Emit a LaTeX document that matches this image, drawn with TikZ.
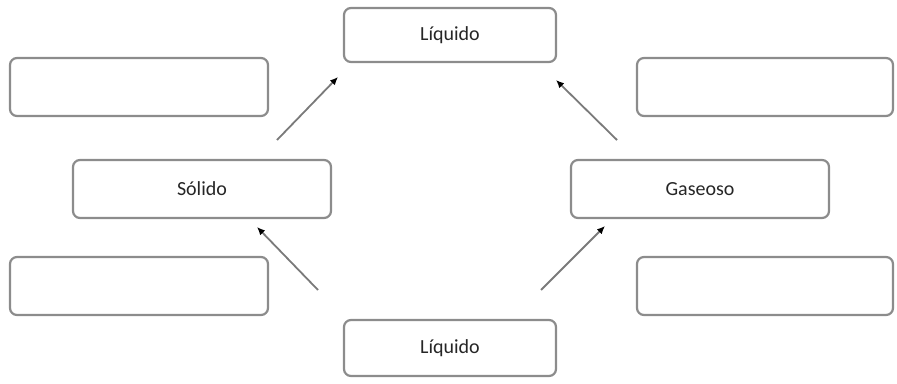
\documentclass[tikz,border=0pt]{standalone}
\usepackage{fontspec}
\setmainfont{Carlito}
\usetikzlibrary{arrows.meta}
\definecolor{boxgray}{HTML}{8C8C8C}
\definecolor{arrgray}{HTML}{7A7A7A}
\tikzset{
  statebox/.style={draw=boxgray, line width=2.2pt, rounded corners=7pt, fill=white, inner sep=0pt,
    font=\fontsize{20}{24}\selectfont, text=black!85},
  conn/.style={draw=arrgray, line width=1.8pt, -{Latex[length=8pt,width=7pt,fill=black,color=black]}}
}
\begin{document}
\begin{tikzpicture}[x=1pt,y=-1pt]
\useasboundingbox (0,0) rectangle (897,383);
% state boxes
\node[statebox, minimum width=212pt, minimum height=54pt] (liqtop) at (450,35) {Líquido};
\node[statebox, minimum width=212pt, minimum height=56pt] (liqbot) at (450,348) {Líquido};
\node[statebox, minimum width=258pt, minimum height=58pt] (sol) at (202,189) {Sólido};
\node[statebox, minimum width=258pt, minimum height=58pt] (gas) at (700,189) {Gaseoso};
% empty boxes
\node[statebox, minimum width=258pt, minimum height=58pt] (e1) at (139,87) {};
\node[statebox, minimum width=256pt, minimum height=58pt] (e2) at (765,87) {};
\node[statebox, minimum width=258pt, minimum height=58pt] (e3) at (139,286) {};
\node[statebox, minimum width=256pt, minimum height=58pt] (e4) at (765,286) {};
% arrow ends
\coordinate (a1s) at (277,140); \coordinate (a1e) at (338,77);
\coordinate (a2s) at (617,140); \coordinate (a2e) at (556,80);
\coordinate (a3s) at (318,290); \coordinate (a3e) at (257,227);
\coordinate (a4s) at (541,290); \coordinate (a4e) at (605,226);
\draw[conn] (a1s) -- (a1e);
\draw[conn] (a2s) -- (a2e);
\draw[conn] (a3s) -- (a3e);
\draw[conn] (a4s) -- (a4e);
\end{tikzpicture}
\end{document}
